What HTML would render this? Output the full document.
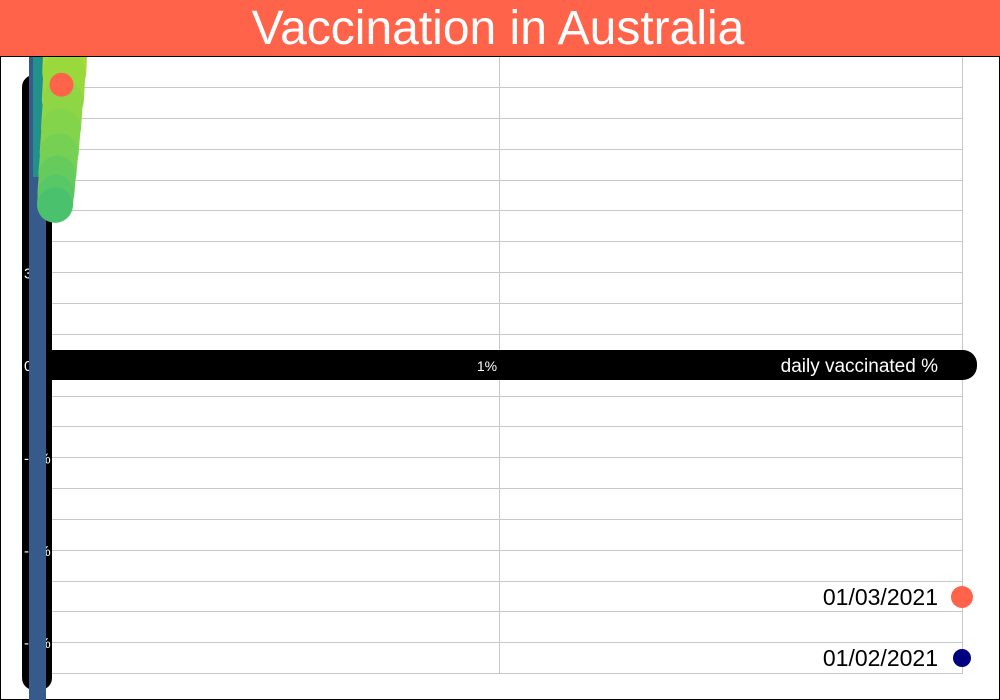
<!DOCTYPE html>
<html><head><meta charset="utf-8"><style>
html,body{margin:0;padding:0;background:#fff;}
svg{display:block;font-family:"Liberation Sans",sans-serif;}
</style></head><body>
<svg id="chart" width="1000" height="700" viewBox="0 0 1000 700">
<defs><clipPath id="plotclip"><rect x="0" y="57" width="1000" height="643"/></clipPath></defs>
<rect x="0.5" y="0.5" width="999" height="699" fill="#fff" stroke="#000"/>
<g id="grid"></g>
<g id="marks" clip-path="url(#plotclip)"></g>
<rect x="0" y="0" width="1000" height="56" fill="#FF634A"/>
<line x1="0" y1="56.5" x2="1000" y2="56.5" stroke="#000"/>
<text x="498" y="44" font-size="48" fill="#fff" text-anchor="middle">Vaccination in Australia</text>
</svg>
<script>
const yTicks=[3,0,-3,-6,-9];
const xTicks=[1];
const seriesX=[0.060,0.057,0.054,0.050,0.046,0.042,0.039,0.037];
const seriesY=[10.5,9.5,8.6,7.7,6.9,6.2,5.6,5.2];
const legendLabels=["01/03/2021","01/02/2021"];
const highlightX=[0.051];
const highlightY=[9.1];

const NS="http://www.w3.org/2000/svg";
const svg=document.getElementById('chart');
const grid=document.getElementById('grid');
const marks=document.getElementById('marks');
function xs(v){return 38+v*461;}
function ys(v){return 365-v*30.8;}
function mk(tag,attrs,parent){const e=document.createElementNS(NS,tag);for(const k in attrs)e.setAttribute(k,attrs[k]);parent.appendChild(e);return e;}

for(let i=0;i<20;i++){
  const gy=Math.round(87+i*30.85)+0.5;
  const l=mk('line',{x1:52,x2:962,y1:gy,y2:gy,stroke:'#c8c8c8'},grid);
  
  
}
[499.5,962.5].forEach(x=>{
  const l=mk('line',{x1:x,x2:x,y1:57,y2:674,stroke:'#c8c8c8'},grid);
  
  
});

const yb=mk('rect',{x:22,y:75,width:30,height:615,rx:12,fill:'#000'},marks);


yTicks.forEach(t=>{
  const tx=mk('text',{x:24,y:ys(t)+6,'font-size':15,fill:'#fff'},marks);
  tx.textContent=(t<0?'-':'')+Math.abs(t)+'%';
  
  
});
const xb=mk('rect',{x:38,y:350,width:939,height:30,rx:14,fill:'#000'},marks);


xTicks.forEach(t=>{
  const tx=mk('text',{x:xs(t)-12,y:371,'font-size':14,fill:'#fff','text-anchor':'middle'},marks);
  tx.textContent=t+'%';
  
  
});
const xt=mk('text',{x:938,y:372,'font-size':19,fill:'#fff','text-anchor':'end'},marks);
xt.textContent='daily vaccinated %';



const bb=mk('rect',{x:29,y:57,width:17,height:643,fill:'#375A8C'},marks);


const tb=mk('rect',{x:33,y:57,width:10,height:120,fill:'#21918C'},marks);



const cols=['#a5db36','#9ad93c','#8ed645','#84d44b','#75d054','#66cb5d','#58c765','#4ac16d'];
const widths=[44,42,40,39,38,37,36,35];
for(let i=0;i<seriesX.length-1;i++){
  const l=mk('line',{x1:xs(seriesX[i]),y1:ys(seriesY[i]),x2:xs(seriesX[i+1]),y2:ys(seriesY[i+1]),stroke:cols[i],'stroke-width':widths[i],'stroke-linecap':'round'},marks);
  
  
}
for(let i=0;i<seriesX.length;i++){
  const c=mk('circle',{cx:xs(seriesX[i]),cy:ys(seriesY[i]),r:widths[i]/2,fill:cols[i]},marks);
  
  
}
highlightX.forEach((v,i)=>{
  const c=mk('circle',{cx:xs(v),cy:ys(highlightY[i]),r:12,fill:'#FF634A'},marks);
  
  
});

const lc=['#FF634A','#000080'];const lr=[11,9];const ly=[597,658];
legendLabels.forEach((s,i)=>{
  const t=mk('text',{x:938,y:ly[i]+8,'font-size':23,fill:'#000','text-anchor':'end'},svg);
  t.textContent=s;
  
  
  const c=mk('circle',{cx:962,cy:ly[i],r:lr[i],fill:lc[i]},svg);
  
  
});
</script>
</body></html>
